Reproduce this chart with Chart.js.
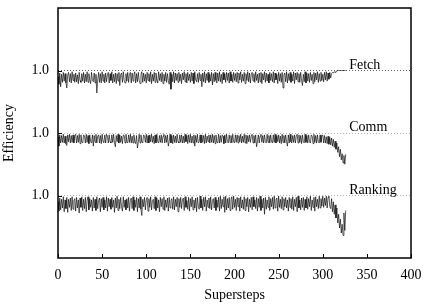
<!DOCTYPE html>
<html>
<head>
<meta charset="utf-8">
<script src="https://cdn.jsdelivr.net/npm/chart.js@4"></script>
<style>
  html, body { margin: 0; padding: 0; background: #fff; }
  #wrap { width: 428px; height: 304px; }
</style>
</head>
<body>
<div id="wrap"><canvas id="chart"></canvas></div>
<script>
// efficiency per superstep, in percent
const fetchEff = [
  90,78,96,74,94,81,97,83,95,80,72,93,97,82,95,80,98,84,94,81,
  96,82,93,79,97,84,81,95,83,97,80,94,82,98,81,95,85,79,97,84,
  82,96,80,94,64,85,97,81,95,80,98,83,94,80,96,82,93,97,80,95,
  84,98,80,94,82,96,79,95,83,97,76,93,96,81,98,84,80,95,83,97,
  81,94,97,80,96,83,93,98,80,95,82,97,84,79,94,98,81,96,83,94,
  80,97,84,95,82,98,79,94,83,97,81,96,85,80,98,84,95,82,97,79,
  94,83,97,81,95,84,78,97,70,94,82,98,80,96,84,95,81,97,83,94,
  79,96,85,98,82,95,80,97,84,94,81,97,83,96,79,98,85,82,95,81,
  97,84,94,74,96,82,98,80,95,84,97,81,94,83,97,77,95,82,97,84,
  80,96,83,98,82,94,79,97,85,95,81,97,84,96,80,98,83,94,81,97,
  84,95,82,97,80,96,85,98,81,94,83,97,79,95,84,98,82,96,80,94,
  97,83,95,81,98,84,94,80,96,82,97,79,95,85,98,81,96,83,94,80,
  97,84,95,82,98,80,96,85,94,79,97,83,95,81,97,72,93,96,82,98,
  80,95,84,97,81,94,83,98,79,96,85,97,82,95,81,97,84,76,94,82,
  98,80,96,83,95,81,97,84,94,79,97,82,96,85,98,81,95,83,97,84,
  94,82,97,85,98,83,96,86,97,88,95,97,96,98,97,99,99,100,100,100,
  100,100,100,100,100,100,100
];
const commEff = [
  94,79,97,84,96,85,98,84,95,83,80,97,86,98,84,96,85,97,84,95,
  98,84,96,85,98,83,97,86,84,97,95,84,98,85,96,83,97,86,84,97,
  79,96,85,98,84,95,97,84,96,83,98,86,85,97,84,98,95,84,97,86,
  84,97,85,98,84,78,96,86,98,84,97,85,95,83,97,96,84,98,86,84,
  97,85,98,84,95,84,97,86,83,96,76,85,98,84,97,86,84,97,95,85,
  98,84,96,84,97,86,98,85,95,83,97,84,98,86,84,96,85,97,84,95,
  98,84,96,85,97,79,86,98,84,96,83,97,85,95,84,98,86,84,97,85,
  97,84,95,84,98,86,96,83,97,85,98,84,95,84,97,79,96,85,98,84,
  86,97,84,97,85,96,83,98,84,95,86,97,84,97,85,98,84,96,83,97,
  86,84,98,84,96,85,97,95,83,97,84,98,86,84,97,85,96,84,98,86,
  84,97,85,97,84,96,86,98,84,95,85,98,84,97,83,96,86,97,85,95,
  98,84,96,84,97,78,86,97,84,95,98,85,96,84,97,86,84,98,85,96,
  84,97,86,84,97,85,98,84,96,86,97,84,95,83,98,85,96,84,97,86,
  79,97,84,98,86,84,96,85,97,84,95,98,84,97,85,96,83,97,86,84,
  98,85,96,84,97,86,84,97,95,83,98,85,96,84,97,86,84,97,85,95,
  97,84,96,84,94,83,95,82,93,81,92,79,90,77,87,74,84,69,78,62,
  74,57,67,52,64,50,66
];
const rankEff = [
  90,75,96,77,94,80,98,74,93,79,97,73,94,81,96,76,98,78,92,95,
  75,97,80,93,72,96,81,98,76,94,79,97,74,92,98,77,95,81,93,75,
  97,80,94,76,98,79,92,96,74,95,81,97,77,93,80,98,75,96,82,94,
  78,97,81,93,73,96,80,99,76,94,79,97,82,75,98,81,93,77,95,80,
  97,75,92,96,79,98,76,93,81,97,74,95,80,98,78,68,94,82,97,77,
  93,97,75,95,81,98,77,92,94,79,98,76,96,80,93,74,97,82,95,78,
  98,76,93,81,96,75,97,80,92,95,78,98,77,94,82,97,74,95,81,97,
  79,93,96,76,98,81,92,78,97,75,95,82,98,77,93,80,96,74,97,83,
  78,99,80,94,76,97,82,98,75,93,81,96,79,98,77,92,95,80,97,76,
  93,81,97,75,99,79,94,82,98,73,99,77,95,80,97,76,93,98,78,99,
  81,94,76,97,82,96,75,98,80,93,78,98,76,95,82,97,74,94,81,97,
  77,98,82,93,79,97,75,95,81,99,76,94,80,96,70,97,78,93,81,98,
  76,95,82,97,78,99,80,93,96,75,99,81,94,79,98,77,95,82,97,80,
  93,75,97,81,95,78,98,76,94,82,97,74,99,80,93,77,96,81,97,76,
  94,80,98,78,95,82,99,76,93,81,97,75,98,82,94,79,99,80,95,83,
  99,81,96,84,99,80,97,99,82,79,95,74,90,70,85,64,80,56,70,48,
  62,40,54,36,72,44,76
];

const seriesNames = ['Fetch', 'Comm', 'Ranking'];
const seriesEff = [fetchEff, commEff, rankEff];
const axisIds = ['yF', 'yC', 'yR'];
const xTicks = [0, 50, 100, 150, 200, 250, 300, 350, 400];
const labelAt = 330;

Chart.defaults.font.family = '"Liberation Serif", "DejaVu Serif", serif';
Chart.defaults.font.size = 14;
Chart.defaults.color = '#000';

const toPoints = arr => arr.map((v, i) => ({ x: i, y: v / 100 }));

const datasets = [];
seriesEff.forEach((arr, i) => {
  datasets.push({
    data: toPoints(arr),
    yAxisID: axisIds[i],
    borderColor: 'rgba(0,0,0,0.8)',
    borderWidth: 0.8,
    pointRadius: 0,
    tension: 0,
    order: 0
  });
});
// dotted reference line at 1.0 for each panel
axisIds.forEach(id => {
  datasets.push({
    data: [{ x: 0, y: 1 }, { x: 400, y: 1 }],
    yAxisID: id,
    borderColor: '#666',
    borderWidth: 1,
    borderDash: [1, 2],
    pointRadius: 0,
    order: 1
  });
});

const yAxis = (max, weight) => ({
  type: 'linear',
  position: 'left',
  stack: 'eff',
  stackWeight: weight,
  min: 0,
  max: max,
  afterBuildTicks: s => { s.ticks = [{ value: 1 }]; },
  afterFit: s => {
    s.width = 58;
    s.paddingTop = 0;
    s.paddingBottom = 0;
  },
  ticks: { callback: () => '1.0', padding: 9 },
  grid: { display: false, drawTicks: false },
  border: { display: false }
});

const decor = {
  id: 'decor',
  afterDatasetsDraw(chart) {
    const { ctx, chartArea: a, scales } = chart;
    ctx.save();
    ctx.strokeStyle = '#000';
    ctx.lineWidth = 1.5;
    ctx.strokeRect(a.left, a.top, a.right - a.left, a.bottom - a.top);
    ctx.lineWidth = 1;
    ctx.beginPath();
    xTicks.forEach(v => {
      const px = Math.round(scales.x.getPixelForValue(v)) + 0.5;
      ctx.moveTo(px, a.bottom);
      ctx.lineTo(px, a.bottom - 4);
    });
    axisIds.forEach(id => {
      const py = Math.round(scales[id].getPixelForValue(1)) + 0.5;
      ctx.moveTo(a.left, py);
      ctx.lineTo(a.left + 4, py);
    });
    ctx.stroke();

    ctx.fillStyle = '#000';
    ctx.font = '14px "Liberation Serif", serif';
    ctx.textBaseline = 'alphabetic';
    seriesNames.forEach((name, i) => {
      const py = scales[axisIds[i]].getPixelForValue(1);
      ctx.fillText(name, scales.x.getPixelForValue(labelAt), py - 2);
    });

    ctx.translate(9, (a.top + a.bottom) / 2);
    ctx.rotate(-Math.PI / 2);
    ctx.textAlign = 'center';
    ctx.textBaseline = 'middle';
    ctx.fillText('Efficiency', 0, 0);
    ctx.restore();
  }
};

new Chart(document.getElementById('chart').getContext('2d'), {
  type: 'line',
  data: { datasets: datasets },
  options: {
    responsive: true,
    maintainAspectRatio: false,
    animation: false,
    layout: { padding: { top: 8, right: 17, left: 0, bottom: 0 } },
    plugins: { legend: { display: false }, tooltip: { enabled: false } },
    scales: {
      x: {
        type: 'linear',
        min: 0,
        max: 400,
        afterBuildTicks: s => { s.ticks = xTicks.map(v => ({ value: v })); },
        afterFit: s => {
          s.height = 46;
          s.paddingLeft = 0;
          s.paddingRight = 0;
        },
        ticks: { padding: 9 },
        grid: { display: false, drawTicks: false },
        border: { display: false },
        title: { display: true, text: 'Supersteps', padding: 0 }
      },
      yR: yAxis(1, 1),
      yC: yAxis(1, 1),
      yF: yAxis(2, 2)
    }
  },
  plugins: [decor]
});
</script>
</body>
</html>
